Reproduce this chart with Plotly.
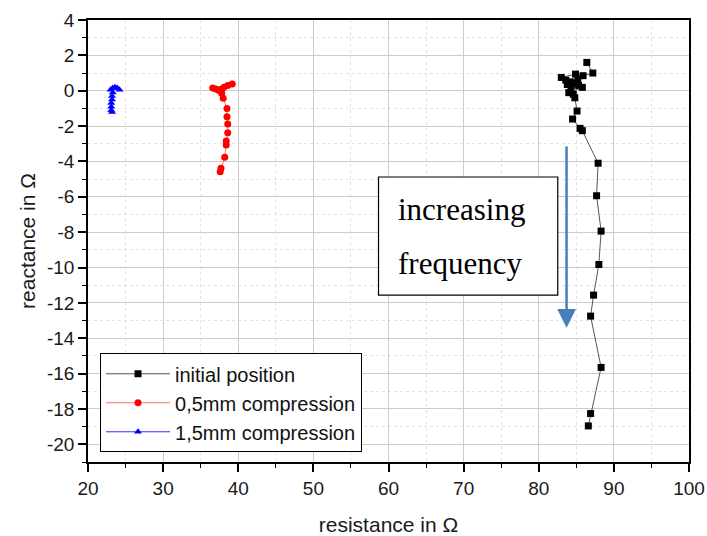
import plotly.graph_objects as go

# initial position (black squares)
black_x = [86.4, 87.2, 85.9, 84.9, 83.0, 83.6, 84.2, 83.8, 84.7, 85.2, 85.3, 84.3, 85.8, 84.0, 84.6, 84.8,
           85.1, 84.5, 85.5, 85.8, 87.9, 87.7, 88.3, 88.0, 87.3, 86.9, 88.3, 86.9, 86.6]
black_y = [1.6, 1.0, 0.85, 0.94, 0.75, 0.6, 0.5, 0.35, 0.43, 0.65, 0.3, 0.2, 0.19, -0.11, -0.2, -0.4,
           -1.15, -1.6, -2.13, -2.26, -4.1, -5.94, -7.94, -9.83, -11.56, -12.75, -15.65, -18.26, -18.96]

# 0,5mm compression (red circles)
red_x = [36.6, 37.0, 37.4, 37.7, 38.1, 38.6, 39.2, 37.8, 38.0, 38.5, 38.5, 38.6, 38.6, 38.4, 38.4, 38.2, 37.7, 37.6]
red_y = [0.15, 0.1, 0.02, 0.08, 0.2, 0.3, 0.38, -0.15, -0.43, -1.0, -1.47, -1.88, -2.38, -2.85, -3.07, -3.77, -4.39, -4.58]

# 1,5mm compression (blue triangles)
blue_x = [24.2, 23.9, 23.6, 23.3, 23.0, 23.3, 23.2, 23.2, 23.1, 23.1, 23.1, 23.2]
blue_y = [0.05, 0.15, 0.2, 0.15, 0.05, -0.1, -0.3, -0.5, -0.7, -0.9, -1.1, -1.2]

x_ticks = [20, 30, 40, 50, 60, 70, 80, 90, 100]
y_ticks = [4, 2, 0, -2, -4, -6, -8, -10, -12, -14, -16, -18, -20]
y_tick_labels = ["4", "2", "0", "-2", "-4", "-6", "-8", "-10", "-12", "-14", "-16", "-18", "-20"]

SANS = "Liberation Sans, Arial"
SERIF = "Liberation Serif, Times New Roman"

fig = go.Figure()
fig.add_trace(go.Scatter(x=black_x, y=black_y, mode="lines+markers", name="initial position",
                         line=dict(color="#555555", width=1),
                         marker=dict(symbol="square", size=7, color="black")))
fig.add_trace(go.Scatter(x=red_x, y=red_y, mode="lines+markers", name="0,5mm compression",
                         line=dict(color="#ff7070", width=1),
                         marker=dict(symbol="circle", size=7, color="#ff0000")))
fig.add_trace(go.Scatter(x=blue_x, y=blue_y, mode="lines+markers", name="1,5mm compression",
                         line=dict(color="#3030ff", width=1),
                         marker=dict(symbol="triangle-up", size=7, color="#0000ff")))

axis_common = dict(
    showline=True, linecolor="black", linewidth=1.5, mirror=True,
    ticks="outside", ticklen=8, tickwidth=1.5, tickcolor="black",
    showgrid=True, gridcolor="#cccccc", gridwidth=1.2,
    zeroline=False, automargin=False,
    tickfont=dict(family=SANS, size=19, color="#1a1a1a"),
)

fig.update_xaxes(range=[20, 100], tickvals=x_ticks,
                 minor=dict(dtick=5, ticks="outside", ticklen=4, tickcolor="black", tickwidth=1.2,
                            showgrid=True, gridcolor="#e2e2e2", griddash="dot", gridwidth=1),
                 title=dict(text="resistance in Ω", font=dict(family=SANS, size=21, color="#1a1a1a"),
                            standoff=22),
                 **axis_common)
fig.update_yaxes(range=[-21, 4], tickvals=y_ticks, ticktext=y_tick_labels,
                 minor=dict(dtick=1, ticks="outside", ticklen=4, tickcolor="black", tickwidth=1.2,
                            showgrid=True, gridcolor="#e2e2e2", griddash="dot", gridwidth=1),
                 title=dict(text="reactance in Ω", font=dict(family=SANS, size=21, color="#1a1a1a"),
                            standoff=6),
                 **axis_common)

# text box
fig.add_shape(type="rect", xref="x", yref="y", x0=58.67, x1=82.53, y0=-11.56, y1=-4.88,
              line=dict(color="black", width=1.2), fillcolor="white", layer="above")
fig.add_annotation(x=61.0, y=-6.7, xref="x", yref="y", text="increasing", showarrow=False,
                   xanchor="left", yanchor="middle",
                   font=dict(family=SERIF, size=31, color="black"))
fig.add_annotation(x=61.0, y=-9.75, xref="x", yref="y", text="frequency", showarrow=False,
                   xanchor="left", yanchor="middle",
                   font=dict(family=SERIF, size=31, color="black"))
# arrow
fig.add_annotation(x=83.7, y=-13.4, ax=83.7, ay=-3.07, xref="x", yref="y", axref="x", ayref="y",
                   text="", showarrow=True, arrowhead=2, arrowsize=1.5, arrowwidth=2.5,
                   arrowcolor="#4a7ebb", standoff=0)

fig.update_layout(
    width=707, height=536,
    margin=dict(l=88, r=18, t=20, b=74),
    paper_bgcolor="white", plot_bgcolor="white",
    showlegend=True,
    legend=dict(x=0.02, y=0.022, xanchor="left", yanchor="bottom",
                bordercolor="black", borderwidth=1, bgcolor="white",
                font=dict(family=SANS, size=20, color="#111111"),
                itemwidth=64, tracegroupgap=0),
)

fig.write_html("out.html")
